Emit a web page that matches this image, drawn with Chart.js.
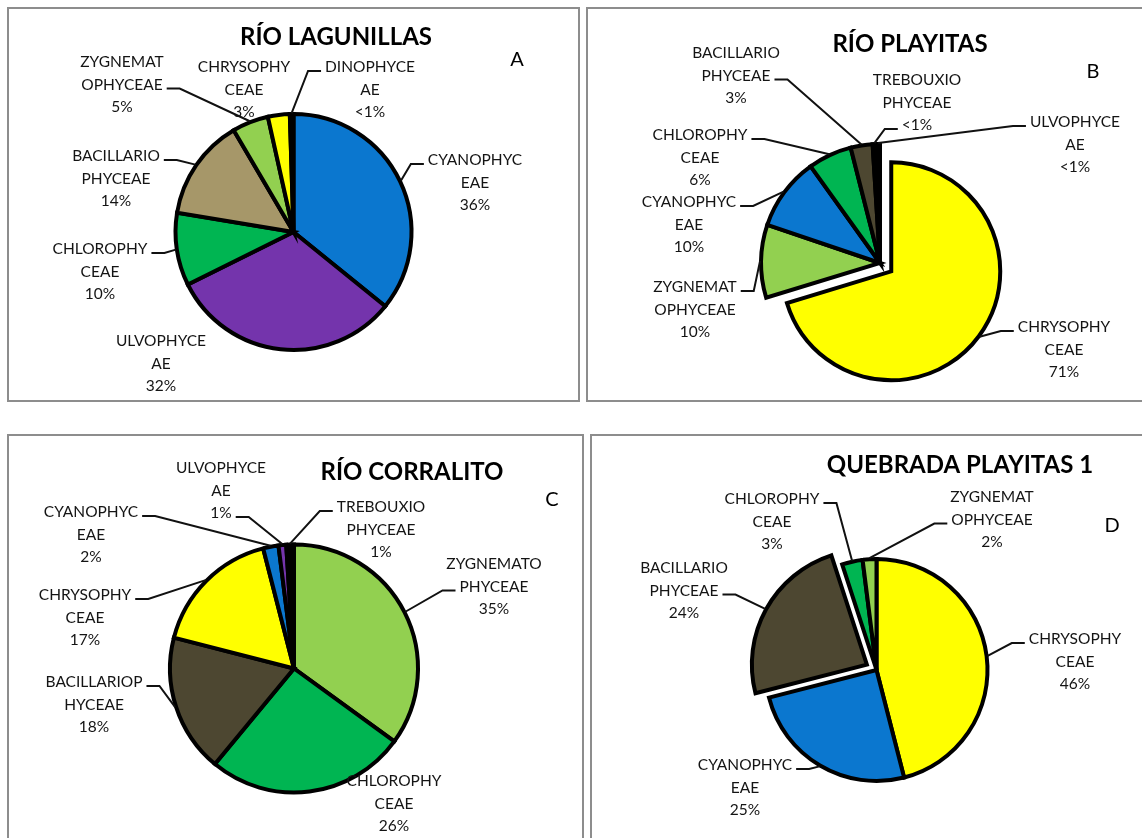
<!DOCTYPE html>
<html>
<head>
<meta charset="utf-8">
<script src="https://cdn.jsdelivr.net/npm/chart.js@4.4.1/dist/chart.umd.min.js"></script>
<style>
  html, body { margin: 0; padding: 0; background: #fff; }
  body { width: 1142px; height: 838px; position: relative; overflow: hidden; }
  .panel { position: absolute; box-sizing: border-box; border: 2px solid #8d8d8d; background: #fff; overflow: hidden; }
  .panel canvas { position: absolute; left: 0; top: 0; }
</style>
</head>
<body>
<div class="panel" id="pA"><canvas id="cA"></canvas></div>
<div class="panel" id="pB"><canvas id="cB"></canvas></div>
<div class="panel" id="pC"><canvas id="cC"></canvas></div>
<div class="panel" id="pD"><canvas id="cD"></canvas></div>
<script>
// ---- Data: relative abundance (%) of algal classes per site ----
// Category names are kept split the way they are printed on the labels.
const lagunillasTaxa = [['CYANOPHYC', 'EAE'], ['ULVOPHYCE', 'AE'], ['CHLOROPHY', 'CEAE'], ['BACILLARIO', 'PHYCEAE'], ['ZYGNEMAT', 'OPHYCEAE'], ['CHRYSOPHY', 'CEAE'], ['DINOPHYCE', 'AE']];
const lagunillasPct = [36, 32, 10, 14, 5, 3, 0.5];

const playitasTaxa = [['CHRYSOPHY', 'CEAE'], ['ZYGNEMAT', 'OPHYCEAE'], ['CYANOPHYC', 'EAE'], ['CHLOROPHY', 'CEAE'], ['BACILLARIO', 'PHYCEAE'], ['TREBOUXIO', 'PHYCEAE'], ['ULVOPHYCE', 'AE']];
const playitasPct = [71, 10, 10, 6, 3, 0.5, 0.5];

const corralitoTaxa = [['ZYGNEMATO', 'PHYCEAE'], ['CHLOROPHY', 'CEAE'], ['BACILLARIOP', 'HYCEAE'], ['CHRYSOPHY', 'CEAE'], ['CYANOPHYC', 'EAE'], ['ULVOPHYCE', 'AE'], ['TREBOUXIO', 'PHYCEAE']];
const corralitoPct = [35, 26, 18, 17, 2, 1, 1];

const quebradaTaxa = [['CHRYSOPHY', 'CEAE'], ['CYANOPHYC', 'EAE'], ['BACILLARIO', 'PHYCEAE'], ['CHLOROPHY', 'CEAE'], ['ZYGNEMAT', 'OPHYCEAE']];
const quebradaPct = [46, 25, 24, 3, 2];

const siteTitles = ['RÍO LAGUNILLAS', 'RÍO PLAYITAS', 'RÍO CORRALITO', 'QUEBRADA PLAYITAS 1'];
const panelLetters = ['A', 'B', 'C', 'D'];

// ---- Styles ----
const COL = {
  blue: '#0b77cf', purple: '#7434ac', green: '#00b552', khaki: '#a69769',
  olive: '#4d4731', lime: '#92d050', yellow: '#ffff00', black: '#000000'
};
const FONT = 'Lato, "Open Sans", sans-serif';
const LINE_H = 22.5;

// ---- Layout (page pixels). spots: [x, y of first text line, line the leader starts from (-1 = none)] ----
const panels = [
  {
    box: [7, 7, 573, 395], canvas: 'cA', panel: 'pA',
    taxa: lagunillasTaxa, pct: lagunillasPct,
    colors: [COL.blue, COL.purple, COL.green, COL.khaki, COL.lime, COL.yellow, COL.black],
    center: [293.5, 232], radius: 118, explode: null,
    title: [336, 37], letter: [517, 60],
    spots: [[475, 160, 0], [161, 341, -1], [100, 249, 0], [116, 156, 0], [122, 62, 1], [244, 67, -1], [370, 67, 0]]
  },
  {
    box: [586, 7, 560, 395], canvas: 'cB', panel: 'pB',
    taxa: playitasTaxa, pct: playitasPct,
    colors: [COL.yellow, COL.lime, COL.blue, COL.green, COL.olive, '#1a1a1a', COL.black],
    center: [880, 263], radius: 119, explode: { index: 0, distance: 14, radius: 109 },
    title: [910, 44], letter: [1093, 72],
    spots: [[1064, 327, 0], [695, 287, 0], [689, 202, 0], [700, 135, 0], [736, 53, 1], [917, 80, 2], [1075, 122, 0]]
  },
  {
    box: [7, 434, 577, 420], canvas: 'cC', panel: 'pC',
    taxa: corralitoTaxa, pct: corralitoPct,
    colors: [COL.lime, COL.green, COL.olive, COL.yellow, COL.blue, COL.purple, COL.black],
    center: [294, 668.5], radius: 124, explode: null,
    title: [412, 472], letter: [552, 500],
    spots: [[494, 564, 1], [394, 781, -1], [94, 682, 0], [85, 595, 0], [91, 512, 0], [221, 468, 2], [381, 507, 0]]
  },
  {
    box: [590, 434, 560, 420], canvas: 'cD', panel: 'pD',
    taxa: quebradaTaxa, pct: quebradaPct,
    colors: [COL.yellow, COL.blue, COL.olive, COL.green, COL.lime],
    center: [876.5, 670], radius: 111, explode: { index: 2, distance: 11, radius: 115 },
    title: [960, 465], letter: [1112, 526],
    spots: [[1075, 639, 0], [745, 765, 0], [684, 568, 1], [772, 499, 0], [992, 497, 1]]
  }
];

const BORDER = 2;

function pctText(v) {
  return v < 1 ? '<1%' : Math.round(v) + '%';
}

// Pulls one slice out along its bisector and lets it carry its own radius,
// then writes the callout labels, leader lines, title and panel letter.
const calloutPlugin = {
  id: 'callouts',
  afterDatasetUpdate(chart, args, opts) {
    const ex = opts.explode;
    if (!ex) return;
    const arc = chart.getDatasetMeta(0).data[ex.index];
    const mid = (arc.startAngle + arc.endAngle) / 2;
    arc.x += Math.cos(mid) * ex.distance;
    arc.y += Math.sin(mid) * ex.distance;
    if (ex.radius) arc.outerRadius = ex.radius;
  },
  afterDatasetsDraw(chart, args, opts) {
    const ctx = chart.ctx;
    const meta = chart.getDatasetMeta(0);
    const values = chart.data.datasets[0].data;
    const [ox, oy] = opts.origin;
    const cx = opts.center[0] - ox;
    ctx.save();
    ctx.font = '15.5px ' + FONT;
    ctx.textAlign = 'center';
    ctx.textBaseline = 'middle';
    opts.spots.forEach((s, i) => {
      const lines = chart.data.labels[i].concat([pctText(values[i])]);
      const x = s[0] - ox, y = s[1] - oy;
      ctx.fillStyle = '#141414';
      lines.forEach((t, k) => ctx.fillText(t, x, y + k * LINE_H));
      if (s[2] < 0) return;
      const arc = meta.data[i];
      const w = ctx.measureText(lines[s[2]]).width;
      const dir = x > cx ? -1 : 1;
      const ly = y + s[2] * LINE_H + 4;
      const sx = x + dir * (w / 2 + 4);
      const ex = sx + dir * 13;
      const mid = (arc.startAngle + arc.endAngle) / 2;
      const ax = arc.x + Math.cos(mid) * (arc.outerRadius + 1);
      const ay = arc.y + Math.sin(mid) * (arc.outerRadius + 1);
      ctx.beginPath();
      ctx.moveTo(sx, ly);
      ctx.lineTo(ex, ly);
      ctx.lineTo(ax, ay);
      ctx.lineWidth = 2;
      ctx.strokeStyle = '#111';
      ctx.lineJoin = 'miter';
      ctx.stroke();
    });
    // title
    ctx.fillStyle = '#000';
    ctx.font = 'bold 24px ' + FONT;
    ctx.fillText(opts.title, opts.titlePos[0] - ox, opts.titlePos[1] - oy);
    // panel letter
    ctx.font = '20px ' + FONT;
    ctx.fillText(opts.letter, opts.letterPos[0] - ox, opts.letterPos[1] - oy);
    ctx.restore();
  }
};

panels.forEach((p, n) => {
  const div = document.getElementById(p.panel);
  const [bx, by, bw, bh] = p.box;
  Object.assign(div.style, { left: bx + 'px', top: by + 'px', width: bw + 'px', height: bh + 'px' });
  const W = bw - 2 * BORDER, H = bh - 2 * BORDER;
  const canvas = document.getElementById(p.canvas);
  canvas.width = W; canvas.height = H;
  canvas.style.width = W + 'px'; canvas.style.height = H + 'px';
  const ox = bx + BORDER, oy = by + BORDER;
  const cxc = p.center[0] - ox, cyc = p.center[1] - oy;
  const S = 130;
  new Chart(canvas, {
    type: 'pie',
    data: {
      labels: p.taxa,
      datasets: [{
        data: p.pct,
        backgroundColor: p.colors,
        borderColor: '#000',
        borderWidth: 4,
        borderAlign: 'center',
        borderJoinStyle: 'miter'
      }]
    },
    options: {
      responsive: false,
      animation: false,
      events: [],
      radius: p.radius,
      layout: { padding: { left: cxc - S, right: W - cxc - S, top: cyc - S, bottom: H - cyc - S } },
      plugins: {
        legend: { display: false },
        tooltip: { enabled: false },
        title: { display: false },
        callouts: {
          origin: [ox, oy], center: p.center, spots: p.spots, explode: p.explode,
          title: siteTitles[n], titlePos: p.title, letter: panelLetters[n], letterPos: p.letter
        }
      }
    },
    plugins: [calloutPlugin]
  });
});
</script>
</body>
</html>
